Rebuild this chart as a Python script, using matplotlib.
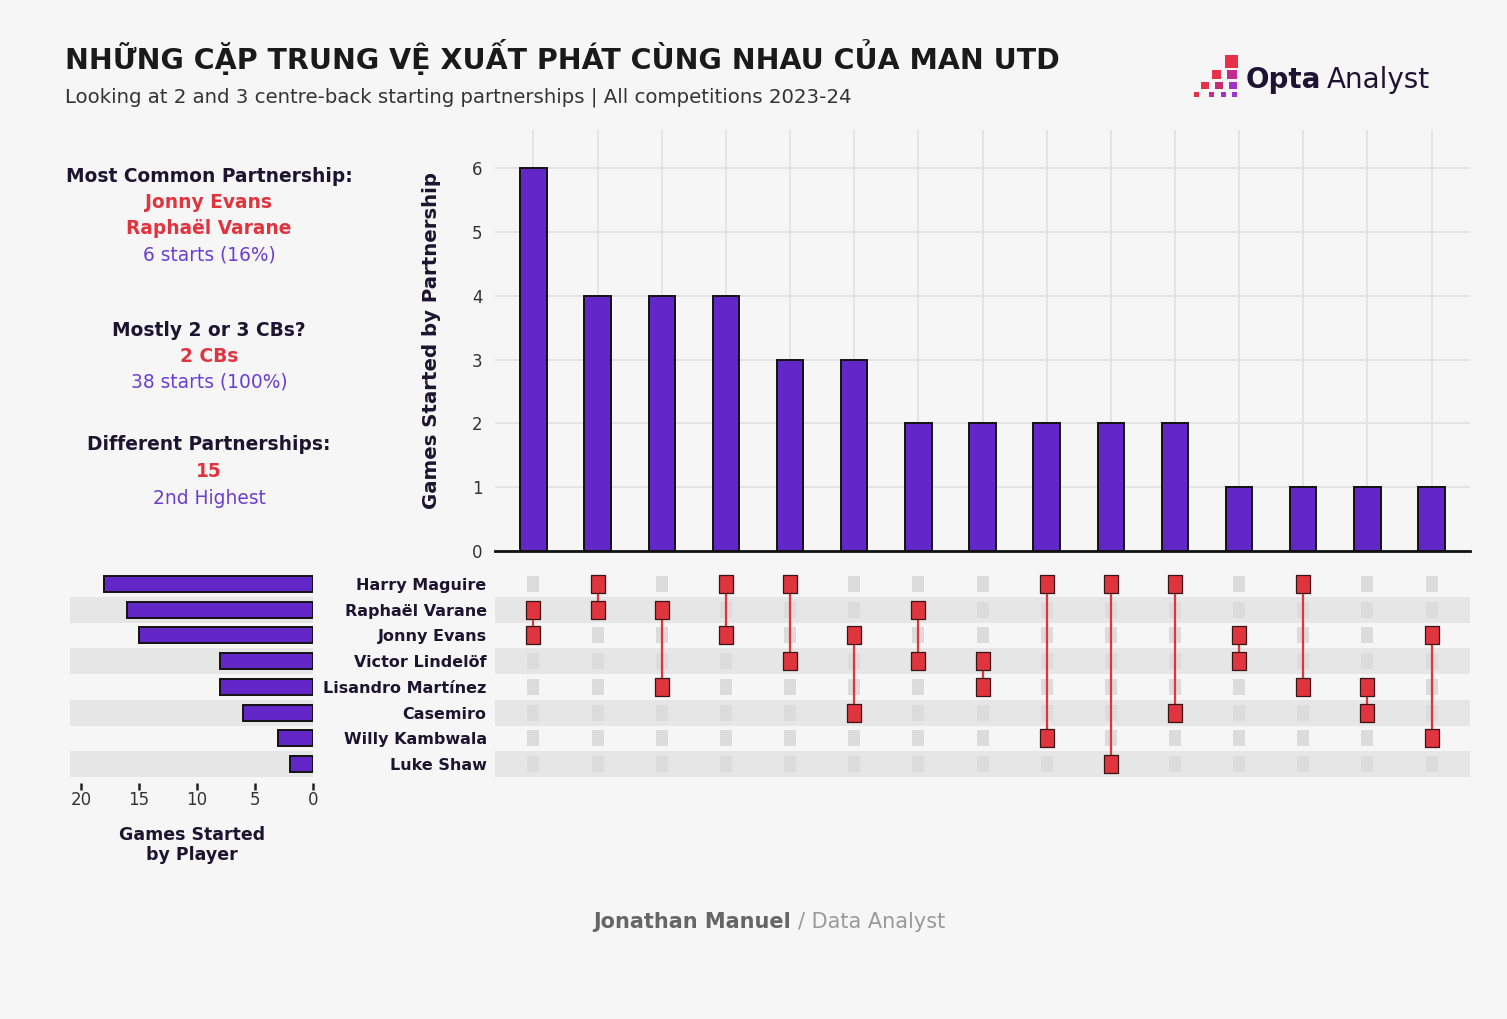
import matplotlib
matplotlib.use("Agg")
import matplotlib.pyplot as plt
from matplotlib.patches import Rectangle

plt.rcParams['font.family'] = ['DejaVu Sans']

players = ["Harry Maguire", "Raphaël Varane", "Jonny Evans", "Victor Lindelöf",
           "Lisandro Martínez", "Casemiro", "Willy Kambwala", "Luke Shaw"]
player_starts = [18, 16, 15, 8, 8, 6, 3, 2]

partnerships = [
    ("Raphaël Varane", "Jonny Evans"),
    ("Harry Maguire", "Raphaël Varane"),
    ("Raphaël Varane", "Lisandro Martínez"),
    ("Harry Maguire", "Jonny Evans"),
    ("Harry Maguire", "Victor Lindelöf"),
    ("Jonny Evans", "Casemiro"),
    ("Raphaël Varane", "Victor Lindelöf"),
    ("Victor Lindelöf", "Lisandro Martínez"),
    ("Harry Maguire", "Willy Kambwala"),
    ("Harry Maguire", "Luke Shaw"),
    ("Harry Maguire", "Casemiro"),
    ("Jonny Evans", "Victor Lindelöf"),
    ("Harry Maguire", "Lisandro Martínez"),
    ("Lisandro Martínez", "Casemiro"),
    ("Jonny Evans", "Willy Kambwala"),
]
partnership_starts = [6, 4, 4, 4, 3, 3, 2, 2, 2, 2, 2, 1, 1, 1, 1]

BG = "#f6f6f6"
PURPLE = "#6227c6"
RED = "#e0343f"
DARK = "#1b1530"
PTEXT = "#6a3fd0"
GRID = "#e3e3e3"
STRIPE = "#e6e6e6"

W, H = 1507, 1019
fig = plt.figure(figsize=(W / 100, H / 100), dpi=100, facecolor=BG)


def fx(x):
    return x / W


def fy(y):
    return 1 - y / H


def px_axes(l, t, r, b):
    return fig.add_axes([fx(l), fy(b), (r - l) / W, (b - t) / H])


# ---- title block ----
fig.text(fx(65), fy(57), "NHỮNG CẶP TRUNG VỆ XUẤT PHÁT CÙNG NHAU CỦA MAN UTD",
         fontsize=20.5, fontweight="bold", color="#1a1a1a", ha="left", va="center")
fig.text(fx(65), fy(97), "Looking at 2 and 3 centre-back starting partnerships | All competitions 2023-24",
         fontsize=14.2, color="#333333", ha="left", va="center")

# logo
logo_sq = [
    (1225, 55, 13, 13, "#e8304a"),
    (1212, 70, 9, 9, "#e8304a"), (1227, 70, 10, 9, "#c42a8f"),
    (1201, 82, 8, 7, "#e8304a"), (1215, 82, 8, 7, "#cc2a70"), (1229, 82, 8, 7, "#a030c8"),
    (1194, 92, 5, 5, "#e8304a"), (1209, 92, 5, 5, "#c42a8f"), (1221, 92, 5, 5, "#a030c8"),
    (1232, 92, 5, 5, "#9b35d0"),
]
for x0, y0, w0, h0, c in logo_sq:
    fig.patches.append(Rectangle((fx(x0), fy(y0 + h0)), w0 / W, h0 / H,
                                 transform=fig.transFigure, color=c, lw=0))
fig.text(fx(1246), fy(80), "Opta", fontsize=20, fontweight="bold", color="#1d1433",
         ha="left", va="center")
fig.text(fx(1327), fy(80), "Analyst", fontsize=20, color="#1d1433", ha="left", va="center")

# ---- left info text ----
info = [
    (176, "Most Common Partnership:", DARK, "bold"),
    (203, "Jonny Evans", RED, "bold"),
    (229, "Raphaël Varane", RED, "bold"),
    (255, "6 starts (16%)", PTEXT, "normal"),
    (330, "Mostly 2 or 3 CBs?", DARK, "bold"),
    (356, "2 CBs", RED, "bold"),
    (382, "38 starts (100%)", PTEXT, "normal"),
    (445, "Different Partnerships:", DARK, "bold"),
    (471, "15", RED, "bold"),
    (498, "2nd Highest", PTEXT, "normal"),
]
for y, s, c, w in info:
    fig.text(fx(209), fy(y), s, fontsize=13.4, color=c, fontweight=w, ha="center", va="center")

# ---- top bar chart ----
n = len(partnership_starts)
xs = list(range(n))
ax = px_axes(495, 130, 1470, 551)
ax.set_facecolor(BG)
ax.bar(xs, partnership_starts, width=0.41, color=PURPLE, edgecolor="#121212", lw=1.4, zorder=3)
ax.set_xlim(-0.6, n - 0.4)
ax.set_ylim(0, 6.6)
ax.set_yticks(range(7))
ax.set_xticks(xs)
ax.set_xticklabels([])
ax.grid(color=GRID, lw=1.3)
ax.set_axisbelow(True)
for s in ["top", "right", "left"]:
    ax.spines[s].set_visible(False)
ax.spines["bottom"].set_color("#111111")
ax.spines["bottom"].set_linewidth(2)
ax.spines["bottom"].set_zorder(4)
ax.tick_params(axis="both", length=0, labelsize=12, labelcolor="#333333", pad=9)
ax.set_ylabel("Games Started by Partnership", fontsize=14.2, fontweight="bold",
              color=DARK, labelpad=22)

# ---- matrix ----
nrows = len(players)
mx = px_axes(495, 571, 1470, 777)
mx.set_facecolor(BG)
mx.set_xlim(-0.6, n - 0.4)
mx.set_ylim(nrows - 0.5, -0.5)
for i in range(1, nrows, 2):
    mx.axhspan(i - 0.5, i + 0.5, color=STRIPE, lw=0, zorder=0)
rect = [(-0.37, -0.5), (0.37, -0.5), (0.37, 0.5), (-0.37, 0.5), (-0.37, -0.5)]
for j, pair in enumerate(partnerships):
    rows = [players.index(p) for p in pair]
    others = [i for i in range(nrows) if i not in rows]
    mx.plot([j] * len(others), others, ls="none", marker=rect, ms=12,
            color="#dcdcdc", mew=0, zorder=2)
    mx.plot([j, j], [min(rows), max(rows)], color=RED, lw=1.6, zorder=3)
    mx.plot([j] * len(rows), rows, ls="none", marker=rect, ms=13.5,
            mfc=RED, mec="#3a1515", mew=0.9, zorder=4)
mx.set_yticks(range(nrows))
mx.set_yticklabels(players, fontsize=11.5, fontweight="bold", color=DARK)
mx.set_xticks([])
mx.tick_params(axis="y", length=0, pad=6)
for s in mx.spines.values():
    s.set_visible(False)

# ---- left bar chart ----
lx = px_axes(70, 571, 313, 777)
lx.set_facecolor(BG)
for i in range(1, nrows, 2):
    lx.axhspan(i - 0.5, i + 0.5, color=STRIPE, lw=0, zorder=0)
lx.barh(range(nrows), player_starts, height=0.62, color=PURPLE, edgecolor="#121212",
        lw=1.4, zorder=3)
lx.set_xlim(20.95, 0)
lx.set_ylim(nrows - 0.5, -0.5)
lx.set_yticks([])
lx.set_xticks([20, 15, 10, 5, 0])
for s in ["top", "right", "left"]:
    lx.spines[s].set_visible(False)
lx.spines["bottom"].set_position(("outward", 4))
lx.spines["bottom"].set_visible(False)
lx.tick_params(axis="x", length=5, width=1.8, color="#222222", labelsize=12,
               labelcolor="#333333", pad=1)
fig.text(fx(192), fy(845), "Games Started\nby Player", fontsize=12.5, fontweight="bold",
         color=DARK, ha="center", va="center", linespacing=1.1)

# ---- footer ----
fig.text(fx(791), fy(922), "Jonathan Manuel", fontsize=15, fontweight="bold",
         color="#666666", ha="right", va="center")
fig.text(fx(798), fy(922), "/ Data Analyst", fontsize=15, color="#9a9a9a",
         ha="left", va="center")

fig.savefig("out.png", dpi=100, facecolor=BG)
